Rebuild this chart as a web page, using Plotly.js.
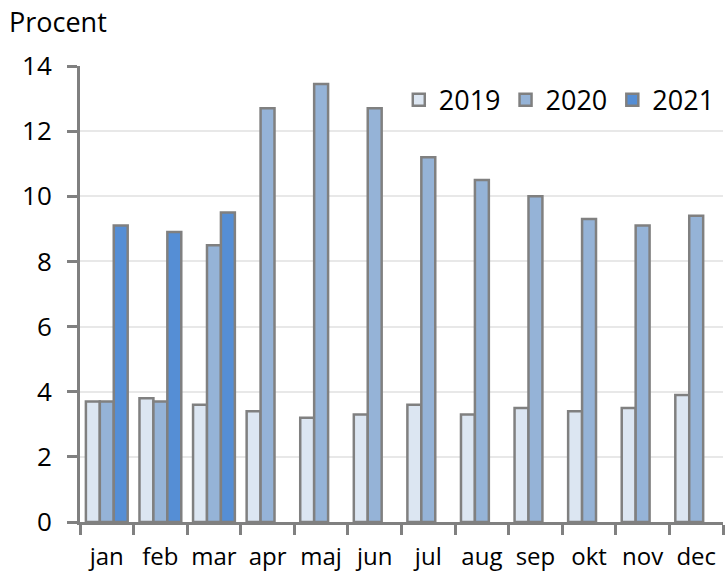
<!DOCTYPE html>
<html><head><meta charset="utf-8">
<script src="https://cdn.plot.ly/plotly-3.0.1.min.js"></script>
<style>body{margin:0;background:#fff}#c{width:725px;height:580px}</style>
</head><body><div id="c"></div>
<script>
const months = ['jan','feb','mar','apr','maj','jun','jul','aug','sep','okt','nov','dec'];
const y2019 = [3.7,3.8,3.6,3.4,3.2,3.3,3.6,3.3,3.5,3.4,3.5,3.9];
const y2020 = [3.7,3.7,8.5,12.7,13.45,12.7,11.2,10.5,10.0,9.3,9.1,9.4];
const y2021 = [9.1,8.9,9.5,null,null,null,null,null,null,null,null,null];
const names = ['2019','2020','2021'];
const colors = ['#dce6f2','#95b3d7','#558ed5'];
const series = [y2019,y2020,y2021];
const data = series.map((s,i)=>({type:'bar',x:months,y:s,name:names[i],
  marker:{color:colors[i],line:{color:'#808080',width:2.5}}}));
const font = {family:'"Open Sans", "Liberation Sans", sans-serif', size:26, color:'#000'};
Plotly.newPlot('c',data,{
  width:725,height:580,
  margin:{l:80,r:2,t:66,b:58},
  paper_bgcolor:'#fff',plot_bgcolor:'#fff',
  font:font,
  barmode:'group',bargap:0.22,bargroupgap:0,
  showlegend:true,
  legend:{orientation:'h',x:0.995,xanchor:'right',y:0.925,yanchor:'middle',
    font:{size:27},itemwidth:30,tracegroupgap:0,bgcolor:'rgba(0,0,0,0)'},
  annotations:[{text:'Procent',xref:'paper',yref:'paper',x:-0.113,xanchor:'left',y:1.0965,yanchor:'middle',showarrow:false,font:{size:27}}],
  xaxis:{showline:true,linecolor:'#808080',linewidth:3,ticks:'outside',tickson:'boundaries',tickangle:0,
    ticklen:10,tickwidth:3,tickcolor:'#808080',tickfont:{size:24},showgrid:false,ticklabelstandoff:11},
  yaxis:{range:[0,14],dtick:2,showline:true,linecolor:'#808080',linewidth:3,ticks:'outside',
    ticklen:10,tickwidth:3,tickcolor:'#808080',gridcolor:'#e8e8e8',gridwidth:1.5,zeroline:false,
    tickfont:{size:26},ticklabelstandoff:10}
},{displayModeBar:false});
</script></body></html>
